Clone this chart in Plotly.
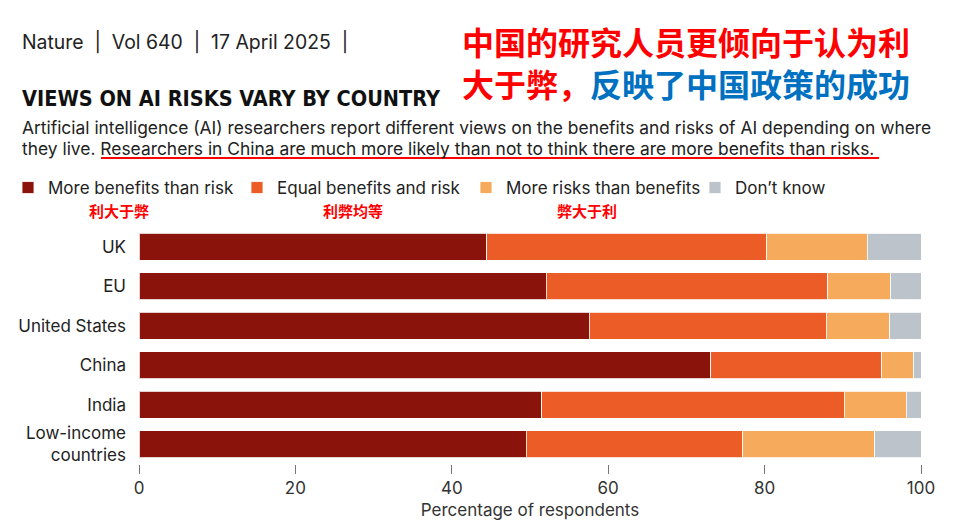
import plotly.graph_objects as go

countries = ["UK", "EU", "United States", "China", "India", "Low-income<br>countries"]
more_benefits = [44.5, 52.1, 57.6, 73.1, 51.5, 49.5]
equal = [35.8, 36.0, 30.3, 21.9, 38.7, 27.7]
more_risks = [12.8, 8.0, 8.1, 4.1, 7.9, 16.9]
dont_know = [6.9, 3.9, 4.0, 0.9, 1.9, 5.9]
series_names = ["More benefits than risk", "Equal benefits and risk",
                "More risks than benefits", "Don’t know"]
series_cn = ["利大于弊", "利弊均等", "弊大于利"]
colors = ["#8A140C", "#EB5C27", "#F6AA5B", "#BCC3CB"]
xticks = [0, 20, 40, 60, 80, 100]

W, H = 960, 525
L, R, T, B = 139, 39, 227, 61
PW, PH = W - L - R, H - T - B


def px(x):
    return (x - L) / PW


def py(y):
    return (H - B - y) / PH


FONT = "Inter"
fig = go.Figure()
legend_ids = ["legend", "legend", "legend2", "legend2"]
for name, vals, c, lg in zip(series_names, [more_benefits, equal, more_risks, dont_know],
                             colors, legend_ids):
    fig.add_trace(go.Bar(
        y=countries, x=vals, name=name, orientation="h", legend=lg,
        marker=dict(color=c, line=dict(color="rgba(255,255,255,0.8)", width=1)),
        hovertemplate="%{y}: %{x}%<extra>" + name + "</extra>",
    ))

legend_common = dict(orientation="h", xref="container", yref="container",
                     y=1 - 170 / H, xanchor="left", yanchor="top",
                     font=dict(size=17, color="#222"), traceorder="normal",
                     itemwidth=30, entrywidth=184, entrywidthmode="pixels",
                     bgcolor="rgba(0,0,0,0)")

fig.update_layout(
    width=W, height=H,
    margin=dict(l=L, r=R, t=T, b=B, pad=0, autoexpand=False),
    barmode="stack", bargap=0.32,
    paper_bgcolor="white", plot_bgcolor="white",
    font=dict(family=FONT, size=17, color="#222"),
    showlegend=True,
    legend=dict(x=8 / W, **legend_common),
    legend2=dict(x=466 / W, **legend_common),
    xaxis=dict(range=[0, 100], tickvals=xticks, ticks="outside", ticklen=9,
               tickcolor="#777", tickwidth=1, showgrid=False, zeroline=False,
               showline=False, tickfont=dict(size=17, color="#333"),
               title=dict(text="Percentage of respondents", standoff=6,
                          font=dict(size=17, color="#333"))),
    yaxis=dict(range=[5.5, -0.5], categoryorder="array", categoryarray=countries,
               showgrid=False, zeroline=False, showline=False, ticks="",
               ticklabelstandoff=12, tickfont=dict(size=17, color="#222")),
)

ann = []
ann.append(dict(x=px(20), y=py(42), text="Nature  |  Vol 640  |  17 April 2025  |",
                font=dict(family=FONT, size=19.4, color="#222")))
ann.append(dict(x=px(20), y=py(99), text="<b>VIEWS ON AI RISKS VARY BY COUNTRY</b>",
                font=dict(family="DejaVu Sans Condensed", size=21.5, color="#111")))
ann.append(dict(x=px(20), y=py(127),
                text="Artificial intelligence (AI) researchers report different views on the benefits and risks of AI depending on where",
                font=dict(family=FONT, size=17.4, color="#222")))
ann.append(dict(x=px(20), y=py(148),
                text="they live. Researchers in China are much more likely than not to think there are more benefits than risks.",
                font=dict(family=FONT, size=17.4, color="#222")))
ann.append(dict(x=px(460), y=py(41), text="<b>中国的研究人员更倾向于认为利</b>",
                font=dict(family="Noto Sans CJK SC", size=32, color="#FF0000")))
ann.append(dict(x=px(460), y=py(83),
                text="<b>大于弊，<span style='color:#0070C0'>反映了中国政策的成功</span></b>",
                font=dict(family="Noto Sans CJK SC", size=32, color="#FF0000")))
for txt, xx in zip(series_cn, [87, 321, 555]):
    ann.append(dict(x=px(xx), y=py(210), text="<b>" + txt + "</b>",
                    font=dict(family="Noto Sans CJK SC", size=15, color="#FF0000")))
for a in ann:
    a.update(xref="paper", yref="paper", xanchor="left", yanchor="middle",
             showarrow=False)
fig.update_layout(annotations=ann)

fig.add_shape(type="line", xref="paper", yref="paper",
              x0=px(101), x1=px(879), y0=py(158), y1=py(158),
              line=dict(color="#FF0000", width=2))

fig.write_html("out.html")
